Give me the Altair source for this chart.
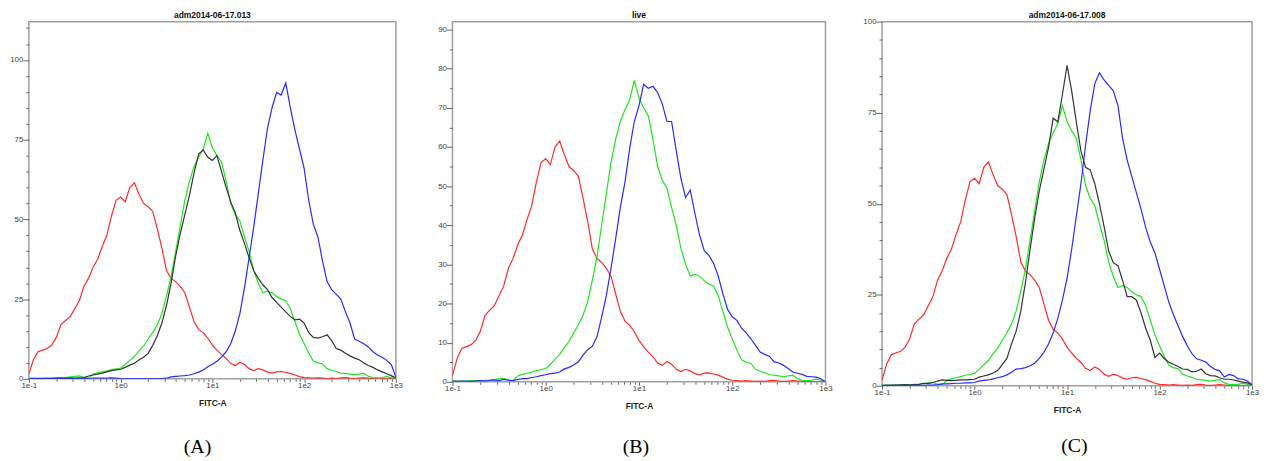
import altair as alt
import pandas as pd

# ---------------- data ----------------
LOG_X = [
    -1.00, -0.95, -0.90, -0.85, -0.80, -0.75, -0.70, -0.65, -0.60, -0.55,
    -0.50, -0.45, -0.40, -0.35, -0.30, -0.25, -0.20, -0.15, -0.10, -0.05,
    0.00, 0.05, 0.10, 0.15, 0.20, 0.25, 0.30, 0.35, 0.40, 0.45,
    0.50, 0.55, 0.60, 0.65, 0.70, 0.75, 0.80, 0.85, 0.90, 0.95,
    1.00, 1.05, 1.10, 1.15, 1.20, 1.25, 1.30, 1.35, 1.40, 1.45,
    1.50, 1.55, 1.60, 1.65, 1.70, 1.75, 1.80, 1.85, 1.90, 1.95,
    2.00, 2.05, 2.10, 2.15, 2.20, 2.25, 2.30, 2.35, 2.40, 2.45,
    2.50, 2.55, 2.60, 2.65, 2.70, 2.75, 2.80, 2.85, 2.90, 2.95,
    3.00,
]

RED = [
    1.5, 6, 8.5, 9, 9.5, 10.6, 13, 17, 18.3, 19.5,
    22, 24.5, 29, 31.5, 35, 37.5, 41.5, 45, 51, 56,
    57, 55.5, 60, 61.5, 58, 55, 54, 52.5, 47, 41,
    34, 31.5, 30.5, 29, 27, 22.5, 18, 15.5, 14.5, 12.8,
    10.6, 9, 7.6, 6.4, 4.8, 4.2, 5.2, 4.5, 3.2, 2.6,
    3.2, 2.8, 2.1, 1.8, 2.2, 2.3, 2.0, 1.7, 1.2, 0.7,
    0.4, 0.3, 0.2, 0.3, 0.2, 0.1, 0.2, 0.1, 0.3, 0.4,
    0.2, 0.1, 0.2, 0.3, 0.2, 0.1, 0.1, 0.1, 0.0, 0.0,
    0.0,
]

GREEN = [
    0.2, 0.2, 0.2, 0.2, 0.3, 0.3, 0.3, 0.4, 0.4, 0.6,
    0.8, 0.9, 0.5, 0.3, 1.5, 1.9, 2.2, 2.5, 2.9, 3.1,
    3.4, 4.5, 5.8, 7, 8.8, 10.3, 12.5, 14.5, 17, 20.5,
    26, 32, 40, 48, 56, 62, 66.5, 69.5, 72, 77,
    72.5, 70, 68, 62, 55, 51.5, 49.5, 44.5, 40, 34,
    30, 27, 27.5, 27, 25.8, 25, 24.5, 22, 18, 14,
    11, 8.1, 5.6, 5, 4.7, 3.2, 2.7, 2.3, 1.8, 1.7,
    1.5, 1.3, 1.5, 1.7, 0.8, 0.4, 0.3, 0.4, 0.7, 0.4,
    0.0,
]

BLACK_A = [
    0.0, 0.1, 0.1, 0.1, 0.1, 0.1, 0.2, 0.2, 0.2, 0.3,
    0.2, 0.3, 0.4, 0.9, 1.2, 1.5, 1.8, 2.2, 2.6, 2.8,
    3.0, 3.6, 4.3, 4.9, 5.9, 6.8, 8.0, 10.5, 13.5, 17.5,
    23, 30, 38.5, 45.5, 51.5, 57.5, 64.5, 70.5, 71.8, 69.5,
    68.5, 70, 65, 60, 55.5, 52, 46.5, 42.5, 38, 34,
    31.5, 29.5, 28, 25.5, 24, 22.5, 21, 19.5, 18.5, 18.7,
    17.5, 14.5, 13, 12.8, 13.2, 13.8, 12, 9.5, 9, 8,
    7.2, 6.5, 6, 5, 4.2, 3.6, 2.8, 2.2, 1.6, 1.0,
    0.2,
]

BLUE_A = [
    0.1, 0.1, 0.1, 0.1, 0.1, 0.1, 0.1, 0.1, 0.1, 0.1,
    0.1, 0.1, 0.1, 0.1, 0.2, 0.2, 0.2, 0.2, 0.3, 0.2,
    0.1, 0.1, 0.1, 0.1, 0.1, 0.1, 0.1, 0.1, 0.1, 0.1,
    0.2, 0.6, 0.8, 0.9, 1.0, 1.2, 1.6, 2.1, 2.8, 3.8,
    4.6, 5.5, 6.8, 8.5, 11, 15, 20.5, 28.5, 38, 47.5,
    58, 68.5, 78.5, 85, 89.8, 89, 92.8, 85, 78, 72,
    66, 56, 48.5, 44.5, 37, 30.5, 28, 26.5, 25, 21,
    17.5, 12.5, 11.8, 11, 10, 8.5, 7.5, 6.8, 5.8, 4.5,
    0.5,
]

BLUE_B = [
    0.2, 0.1, 0.2, 0.2, 0.1, 0.2, 0.3, 0.2, 0.4, 0.5,
    0.3, 0.6, 0.4, 0.3, 0.6, 0.8, 0.8, 1.1, 1.3, 1.6,
    1.8, 2.1, 2.2, 2.5, 3.3, 3.7, 4.3, 5.1, 6.8, 8.2,
    9.1, 11.5, 16.5, 22, 29, 36.5, 44.5, 51, 59.5, 66.5,
    70.5, 76, 75, 75.5, 73.9, 71, 66.5, 66.5, 59, 52,
    47.1, 49, 43, 37.5, 33.5, 32.3, 30.3, 27, 22.5, 18.5,
    16.6, 15.7, 13.7, 12.5, 11, 9.3, 7.6, 7.0, 6.5, 5.1,
    4.8, 4.2, 3.4, 2.5, 2.2, 1.9, 1.4, 1.3, 1.2, 0.8,
    0.0,
]

BLACK_C = [
    0.0, 0.1, 0.1, 0.2, 0.2, 0.3, 0.2, 0.3, 0.4, 0.7,
    0.6, 0.9, 1.3, 1.6, 1.5, 1.4, 1.5, 1.6, 1.6, 1.7,
    1.8, 2.4, 2.7, 3.0, 3.5, 4.2, 5.8, 7.5, 11.5, 15,
    20.5, 28.3, 37.4, 46, 53.5, 59.5, 65.5, 73.5, 72.5, 80,
    88, 81, 72.5, 64.5, 60, 59.3, 55.5, 50, 43.8, 37,
    33.8, 33, 29, 24.5, 24.5, 23.5, 20, 15.8, 12.5, 7.8,
    9, 7.5, 6.5, 5.9, 5.3, 4.6, 4.5, 3.8, 4.0, 4.6,
    3.3, 2.8, 2.7, 2.2, 1.8, 1.8, 1.6, 1.3, 1.0, 0.8,
    0.2,
]

BLUE_C = [
    0.1, 0.1, 0.1, 0.1, 0.1, 0.1, 0.1, 0.1, 0.1, 0.1,
    0.2, 0.2, 0.3, 0.5, 0.5, 0.6, 0.7, 0.7, 0.8, 0.8,
    0.9, 1.3, 1.5, 1.6, 1.9, 2.2, 2.5, 3.0, 3.7, 4.6,
    4.7, 5.0, 5.5, 6.2, 7.5, 9.2, 11.5, 14.5, 18.5, 23.5,
    29.5, 37.5, 46.5, 55.5, 66, 75.5, 83, 86, 84, 82.5,
    81, 77, 68, 62, 57.5, 53, 48.5, 43.5, 39.5, 36.5,
    32, 27.5, 23, 19.5, 16.5, 13.5, 11, 8.8, 7.4, 7.0,
    6.5, 5.3, 4.5, 4.1, 2.4, 3.1, 2.8, 1.9, 1.8, 1.3,
    0.3,
]

TITLES = ["adm2014-06-17.013", "live", "adm2014-06-17.008"]
CAPTIONS = ["(A)", "(B)", "(C)"]
X_TITLE = "FITC-A"
X_MAJOR = [0.1, 1, 10, 100, 1000]
X_LABELS = ["1e-1", "1e0", "1e1", "1e2", "1e3"]
SERIES = ["red", "green", "black", "blue"]
COLORS = ["#ff2a2a", "#1ee61e", "#333333", "#2828ff"]

PANEL_SERIES = [
    [("red", RED), ("green", GREEN), ("black", BLACK_A), ("blue", BLUE_A)],
    [("red", RED), ("green", GREEN), ("blue", BLUE_B)],
    [("red", RED), ("green", GREEN), ("black", BLACK_C), ("blue", BLUE_C)],
]
Y_MAX = [112, 92, 100]
Y_LABEL_STEP = [25, 10, 25]

# ---------------- layout ----------------
LAYOUT = [
    {"w": 370, "h": 360, "cap_x": 170, "cap_y": 435},
    {"w": 376, "h": 363, "cap_x": 185, "cap_y": 435},
    {"w": 373, "h": 367, "cap_x": 194, "cap_y": 434},
]
SPACING = 57

x_ticks = [m * 10 ** e for e in range(-1, 3) for m in range(1, 10)] + [1000]
major_test = " || ".join(f"datum.value == {v}" for v in X_MAJOR)
label_expr = " : ".join(
    f"datum.value == {v} ? '{lab}'" for v, lab in zip(X_MAJOR, X_LABELS)
) + " : ''"


def make_panel(i):
    rows = []
    for name, vals in PANEL_SERIES[i]:
        for lx, v in zip(LOG_X, vals):
            rows.append({"fitc": 10 ** lx, "count": v, "series": name})
    df = pd.DataFrame(rows)
    lay = LAYOUT[i]
    step = Y_LABEL_STEP[i]
    y_ticks = list(range(0, int(Y_MAX[i]) // 5 * 5 + 1, 5))

    x = alt.X(
        "fitc:Q",
        scale=alt.Scale(type="log", domain=[0.1, 1000], nice=False),
        axis=alt.Axis(
            title=X_TITLE,
            values=x_ticks,
            labelExpr=label_expr,
            labelOverlap=False,
            labelFlush=False,
            labelPadding=-1,
            titlePadding=9,
            tickSize={"condition": {"test": major_test, "value": 3.5}, "value": 2.5},
        ),
    )
    y = alt.Y(
        "count:Q",
        scale=alt.Scale(domain=[0, Y_MAX[i]], nice=False),
        axis=alt.Axis(
            title=None,
            values=y_ticks,
            labelExpr=f"datum.value % {step} == 0 ? datum.label : ''",
            labelOverlap=False,
            labelFlush=False,
            labelPadding=0,
            minExtent=19,
            maxExtent=19,
            tickSize={"condition": {"test": f"datum.value % {step} == 0", "value": 6}, "value": 3},
        ),
    )
    lines = alt.Chart(df).mark_line(strokeWidth=1.2, clip=True).encode(
        x=x,
        y=y,
        color=alt.Color("series:N", scale=alt.Scale(domain=SERIES, range=COLORS), legend=None),
    )
    head = alt.Chart(pd.DataFrame({"title": [TITLES[i]]})).mark_text(
        font="Liberation Sans", fontSize=8.5, fontWeight="bold", baseline="middle",
        align="center", color="#111111"
    ).encode(text="title:N", x=alt.value(lay["w"] / 2), y=alt.value(-7))
    cap = alt.Chart(pd.DataFrame({"caption": [CAPTIONS[i]]})).mark_text(
        font="Liberation Serif", fontSize=20, baseline="alphabetic", align="center", color="#000000"
    ).encode(text="caption:N", x=alt.value(lay["cap_x"]), y=alt.value(lay["cap_y"]))

    return alt.layer(lines, head, cap).properties(width=lay["w"], height=lay["h"])


chart = (
    alt.hconcat(*[make_panel(i) for i in range(3)], spacing=SPACING, bounds="flush")
    .properties(padding={"left": 0, "top": 0, "right": 0, "bottom": 0}, background="white")
    .configure_view(stroke="#a0a0a0", strokeWidth=1.5)
    .configure_axis(
        labelFont="Liberation Sans",
        labelFontSize=8,
        labelColor="#444444",
        titleFont="Liberation Sans",
        titleFontSize=8.5,
        titleFontWeight="bold",
        titleColor="#222222",
        tickColor="#666666",
        domain=False,
        grid=False,
    )
)

chart.save("out.html", embed_options={"renderer": "svg", "actions": False})
